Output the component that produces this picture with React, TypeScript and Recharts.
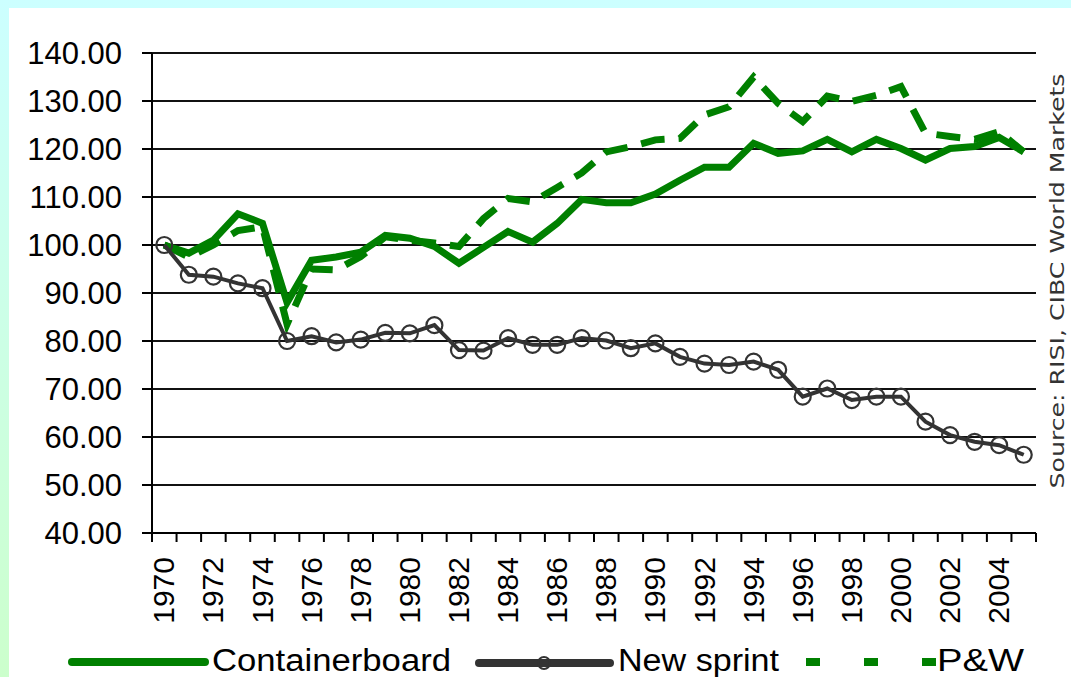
import React from 'react';
import { LineChart, Line, XAxis, YAxis, CartesianGrid } from 'recharts';

const years = [
  1970, 1971, 1972, 1973, 1974, 1975, 1976, 1977, 1978, 1979,
  1980, 1981, 1982, 1983, 1984, 1985, 1986, 1987, 1988, 1989,
  1990, 1991, 1992, 1993, 1994, 1995, 1996, 1997, 1998, 1999,
  2000, 2001, 2002, 2003, 2004, 2005,
];

const containerboard = [
  100, 98.3, 101, 106.5, 104.5, 88, 96.8, 97.5, 98.5, 102,
  101.4, 99.7, 96.2, 99.5, 102.8, 100.6, 104.5, 109.5, 108.8, 108.8,
  110.6, 113.5, 116.2, 116.2, 121.2, 119.1, 119.6, 122, 119.4, 122,
  120.1, 117.7, 120.1, 120.5, 122.4, 119.4,
];

const newsprint = [
  100, 93.8, 93.4, 92, 91, 80, 81, 79.7, 80.3, 81.7,
  81.6, 83.3, 78.1, 78, 80.6, 79.2, 79.2, 80.6, 80.1, 78.5,
  79.5, 76.7, 75.3, 75, 75.7, 74, 68.4, 70.1, 67.7, 68.4,
  68.4, 63.2, 60.4, 59, 58.3, 56.3,
];

const printingWriting = [
  100, 97.5, 100, 103, 103.8, 83.5, 95, 94.8, 97.6, 101.7,
  101, 100.4, 99.7, 105.5, 109.7, 109, 112, 115, 119.4, 120.5,
  121.9, 122.2, 127.1, 128.8, 135, 129.5, 125.7, 131, 129.9, 131.2,
  133, 123.3, 122.6, 122, 123.6, 119.4,
];

const yTicks = [40, 50, 60, 70, 80, 90, 100, 110, 120, 130, 140];
const labelYears = [
  1970, 1972, 1974, 1976, 1978, 1980, 1982, 1984, 1986,
  1988, 1990, 1992, 1994, 1996, 1998, 2000, 2002, 2004,
];

const data = years.map((year, i) => ({
  year,
  containerboard: containerboard[i],
  newsprint: newsprint[i],
  pw: printingWriting[i],
}));

// tick marks sit between the years, labels on every other year
const tickEdges = [...years.map((y) => y - 0.5), years[years.length - 1] + 0.5];
const xTicks = [...tickEdges, ...labelYears].sort((a, b) => a - b);
const xDomain = [tickEdges[0], tickEdges[tickEdges.length - 1]];

const GREEN = '#008000';
const GREY = '#333333';
const FONT = '"Liberation Sans", Arial, sans-serif';

const XTick = (props: any) => {
  const { x, y, payload } = props;
  const v = payload.value;
  if (v % 1 !== 0) {
    return <line x1={x} x2={x} y1={y} y2={y + 9} stroke="#000" strokeWidth={2} />;
  }
  return (
    <text
      transform={`translate(${x + 10},${y + 24}) rotate(-90)`}
      textAnchor="end"
      fontSize={30}
      fontFamily={FONT}
      fill="#000"
    >
      {v}
    </text>
  );
};

export default function App() {
  return (
    <div
      style={{
        position: 'absolute',
        left: 0,
        top: 0,
        width: 1071,
        height: 677,
        background: 'linear-gradient(to bottom, #ccffff, #ccffcc)',
        overflow: 'hidden',
      }}
    >
      <div
        style={{ position: 'absolute', left: 9, top: 8, width: 1062, height: 669, background: '#fff' }}
      />
      <div style={{ position: 'absolute', left: 0, top: 0 }}>
        <LineChart
          width={1071}
          height={677}
          data={data}
          margin={{ top: 53, right: 35, bottom: 0, left: 12 }}
        >
          <CartesianGrid vertical={false} stroke="#111" strokeWidth={2} />
          <XAxis
            dataKey="year"
            type="number"
            domain={xDomain}
            ticks={xTicks}
            interval={0}
            tick={<XTick />}
            tickLine={false}
            tickSize={0}
            tickMargin={0}
            axisLine={{ stroke: '#000', strokeWidth: 2 }}
            height={144}
          />
          <XAxis
            xAxisId="top"
            orientation="top"
            dataKey="year"
            type="number"
            domain={xDomain}
            tick={false}
            tickLine={false}
            axisLine={{ stroke: '#999', strokeWidth: 2 }}
            height={0}
          />
          <YAxis
            domain={[40, 140]}
            ticks={yTicks}
            interval={0}
            width={140}
            tickSize={10}
            tickMargin={20}
            tickFormatter={(v: number) => v.toFixed(2)}
            tick={{ fill: '#000', fontSize: 31, fontFamily: FONT }}
            tickLine={{ stroke: '#000', strokeWidth: 2 }}
            axisLine={{ stroke: '#000', strokeWidth: 2 }}
          />
          <YAxis
            yAxisId="right"
            orientation="right"
            domain={[40, 140]}
            tick={false}
            tickLine={false}
            axisLine={{ stroke: '#999', strokeWidth: 2 }}
            width={0}
          />
          <Line
            dataKey="containerboard"
            stroke={GREEN}
            strokeWidth={7}
            dot={false}
            isAnimationActive={false}
          />
          <Line
            dataKey="pw"
            stroke={GREEN}
            strokeWidth={7}
            strokeDasharray="24 14"
            dot={false}
            isAnimationActive={false}
          />
          <Line
            dataKey="newsprint"
            stroke={GREY}
            strokeWidth={4}
            dot={{ r: 8, stroke: GREY, strokeWidth: 2.2, fill: 'none' }}
            isAnimationActive={false}
          />
        </LineChart>
      </div>
      <svg
        width={1071}
        height={677}
        style={{ position: 'absolute', left: 0, top: 0, pointerEvents: 'none' }}
      >
        <text
          transform="translate(1064,281) rotate(-90)"
          textAnchor="middle"
          fontSize={20}
          textLength={415}
          lengthAdjust="spacingAndGlyphs"
          fontFamily='"DejaVu Sans", Verdana, sans-serif'
          fill={GREY}
        >
          Source:  RISI, CIBC World Markets
        </text>
        <g fontFamily={FONT} fontSize={31} fill="#000">
          <line x1={72} x2={205} y1={662} y2={662} stroke={GREEN} strokeWidth={8} strokeLinecap="round" />
          <text x={212} y={671} textLength={239} lengthAdjust="spacingAndGlyphs">Containerboard</text>
          <line x1={479} x2={610} y1={663} y2={663} stroke={GREY} strokeWidth={8} strokeLinecap="round" />
          <circle cx={544} cy={663} r={6} fill="none" stroke={GREY} strokeWidth={2} />
          <text x={618} y={671} textLength={161} lengthAdjust="spacingAndGlyphs">New sprint</text>
          <line x1={806} x2={936} y1={662} y2={662} stroke={GREEN} strokeWidth={8} strokeDasharray="14 44" />
          <text x={937} y={671} textLength={87} lengthAdjust="spacingAndGlyphs">P&amp;W</text>
        </g>
      </svg>
    </div>
  );
}
